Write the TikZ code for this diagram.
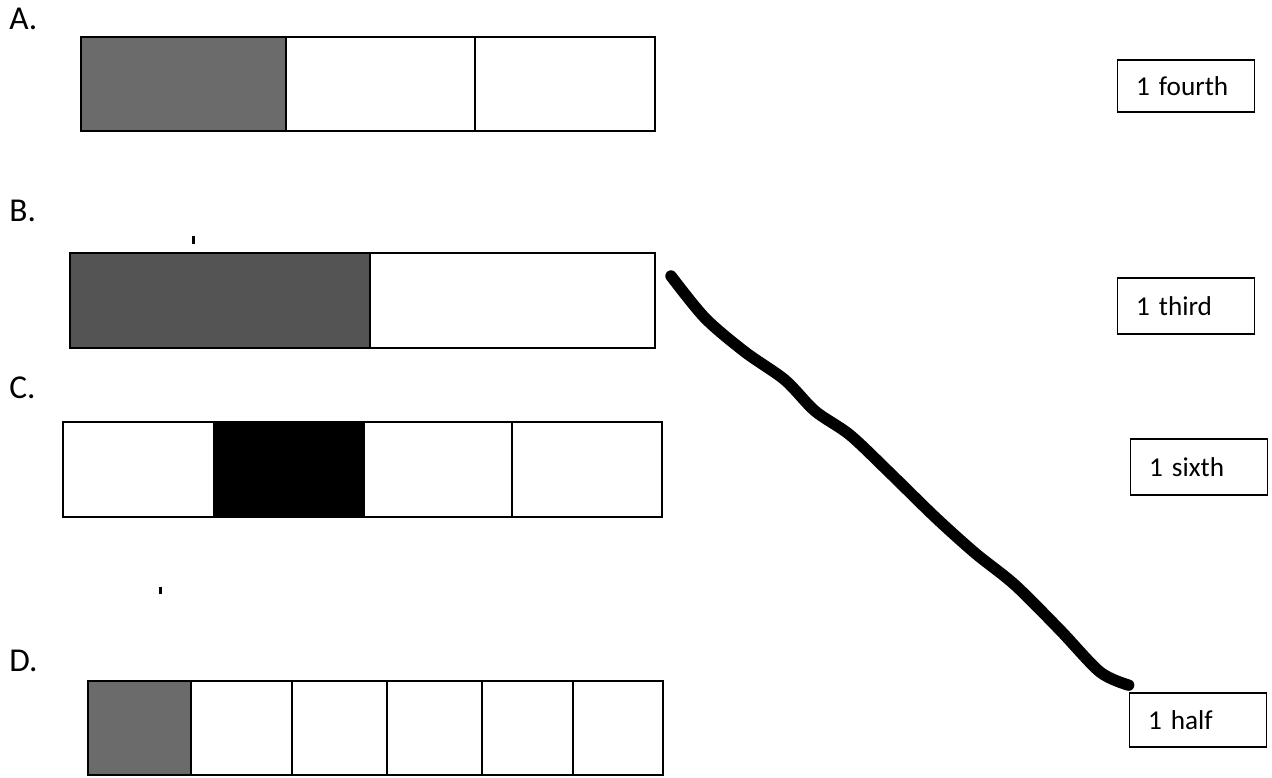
\documentclass[tikz,border=0pt]{standalone}
\usepackage{fontspec}
\setmainfont{Carlito}
\usetikzlibrary{positioning,calc}
\tikzset{
    cell/.style={draw, line width=1pt},
    label/.style={anchor=west, inner sep=0pt, font=\fontsize{19}{22}\selectfont},
    answer/.style={draw, line width=1pt, text width=2.0cm, inner xsep=0.37cm, align=left,
        minimum height=1.12cm, font=\fontsize{15.5}{18}\selectfont},
    pen/.style={line width=6.5pt, line cap=round, line join=round}
}
\definecolor{shadeA}{gray}{0.42}
\definecolor{shadeB}{gray}{0.33}
\definecolor{shadeD}{gray}{0.42}

\begin{document}
\begin{tikzpicture}[x=0.02cm, y=-0.02cm]
    \useasboundingbox (0,0) rectangle (1272,778);

    % Labels
    \node[label] (labA) at (9,19) {A.};
    \node[label] (labB) at (9,211) {B.};
    \node[label] (labC) at (9,388) {C.};
    \node[label] (labD) at (9,661) {D.};

    % bar A
    \fill[shadeA] (81,37) rectangle (286,131);
    \draw[cell] (81,37) rectangle (655,131);
    \foreach \x in {286,475} \draw[cell] (\x,37) -- (\x,131);

    % bar B
    \fill[shadeB] (70,253) rectangle (370,348);
    \draw[cell] (70,253) rectangle (655,348);
    \draw[cell] (370,253) -- (370,348);

    % bar C
    \fill[black] (214,422) rectangle (364,517);
    \draw[cell] (63,422) rectangle (662,517);
    \foreach \x in {214,364,512} \draw[cell] (\x,422) -- (\x,517);

    % bar D
    \fill[shadeD] (88,681) rectangle (191,775);
    \draw[cell] (88,681) rectangle (663,775);
    \foreach \x in {191,292,387,482,573} \draw[cell] (\x,681) -- (\x,775);

    % stray marks
    \fill (192,236) rectangle (195,244);
    \fill (159,587) rectangle (162,594);

    % answer boxes
    \node[answer, minimum height=1.04cm] (fourth) at (1186,86) {1 fourth};
    \node[answer] (third) at (1186,306) {1 third};
    \node[answer] (sixth) at (1199,467) {1 sixth};
    \node[answer, minimum height=1.08cm] (half) at (1198,720) {1 half};

    % hand drawn match
    \coordinate (penB) at (671,276);
    \coordinate (penH) at ($(half.north west)+(0,-7)$);
    \draw[pen] plot[smooth, tension=0.5] coordinates {(penB) (705,318) (745,352) (785,380)
        (815,411) (850,435) (890,473) (935,517) (975,553) (1015,585) (1060,630) (1100,672) (penH)};
\end{tikzpicture}
\end{document}
